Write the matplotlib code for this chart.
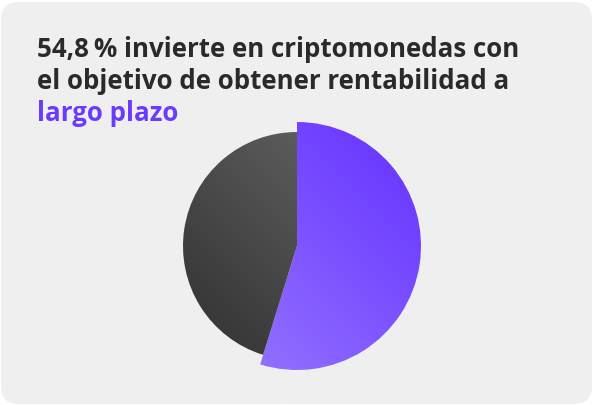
import matplotlib.pyplot as plt
import matplotlib.patches as mpatches
import numpy as np

# data
labels = ["largo plazo", "otros"]
shares = [54.8, 45.2]
title_lines = ["54,8\u2009% invierte en criptomonedas con", "el objetivo de obtener rentabilidad a"]
title_highlight = "largo plazo"

W, H = 594, 405
fig = plt.figure(figsize=(W / 100, H / 100), dpi=100)
fig.patch.set_facecolor("white")
ax = fig.add_axes([0, 0, 1, 1])

# card background
card = mpatches.FancyBboxPatch((1 + 18, 1 + 18), W - 3 - 36, H - 3 - 36,
                               boxstyle="round,pad=18", fc="#efefef", ec="none")
ax.add_patch(card)

cx, cy = 297, 159
wedges, _ = ax.pie(shares, startangle=90, counterclock=False, radius=124,
                   center=(cx, cy), frame=False)
wedges[1].set_radius(114)

# soft shadow behind the pie
for w in wedges:
    for lw in range(2, 46, 2):
        sh = mpatches.Wedge((w.center[0], w.center[1] - 5), w.r, w.theta1, w.theta2,
                            fc="none", ec="black", lw=lw, alpha=0.011, zorder=0.5)
        ax.add_patch(sh)

# gradients
def gradient(c0, c1, n=200):
    c0 = np.array(plt.matplotlib.colors.to_rgb(c0))
    c1 = np.array(plt.matplotlib.colors.to_rgb(c1))
    yy, xx = np.mgrid[0:1:n * 1j, 0:1:n * 1j]
    t = np.clip((xx + yy) / 2, 0, 1)[..., None]
    return c0 * (1 - t) + c1 * t

cols = [("#9c7dff", "#6330ff"), ("#303030", "#6a6a6a")]
for w, (a, b) in zip(wedges, cols):
    r = w.r
    img = gradient(a, b)
    im = ax.imshow(img, extent=(cx - r, cx + r, cy - r, cy + r), origin="lower",
                   zorder=2, interpolation="bilinear")
    w.set_facecolor("none")
    w.set_edgecolor("none")
    im.set_clip_path(w)

font = dict(fontsize=18.6, fontweight="bold", family=["Open Sans", "DejaVu Sans"], va="baseline")
ax.text(37, 348, title_lines[0], color="#2a2a2a", **font)
ax.text(37, 316, title_lines[1], color="#2a2a2a", **font)
ax.text(37, 284, title_highlight, color="#6a3bff", **font)

ax.set_xlim(0, W)
ax.set_ylim(0, H)
ax.set_aspect("auto")
ax.axis("off")
fig.savefig("out.png", dpi=100)
